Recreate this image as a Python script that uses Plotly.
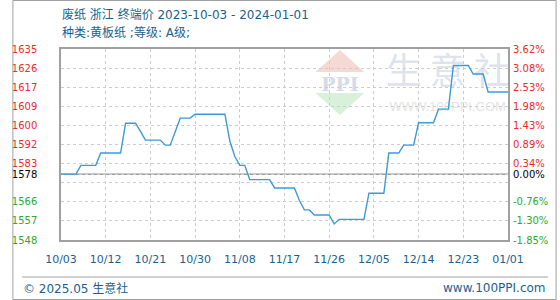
import plotly.graph_objects as go

# ---- data ----
dates = ["2023-10-03", "2023-10-06", "2023-10-07", "2023-10-10", "2023-10-11", "2023-10-15",
         "2023-10-16", "2023-10-18", "2023-10-19", "2023-10-20", "2023-10-23", "2023-10-24",
         "2023-10-25", "2023-10-26", "2023-10-27", "2023-10-29", "2023-10-30", "2023-11-05",
         "2023-11-06", "2023-11-07", "2023-11-08", "2023-11-09", "2023-11-10", "2023-11-14",
         "2023-11-15", "2023-11-19", "2023-11-20", "2023-11-21", "2023-11-22", "2023-11-23",
         "2023-11-26", "2023-11-27", "2023-11-28", "2023-12-03", "2023-12-04", "2023-12-07",
         "2023-12-08", "2023-12-10", "2023-12-11", "2023-12-13", "2023-12-14", "2023-12-17",
         "2023-12-18", "2023-12-20", "2023-12-21", "2023-12-24", "2023-12-25", "2023-12-27",
         "2023-12-28", "2024-01-01"]
prices = [1578, 1578, 1582, 1582, 1587.6, 1587.6,
          1601.2, 1601.2, 1597.5, 1593.5, 1593.5, 1591.2,
          1591.2, 1597.0, 1603.5, 1603.5, 1605.3, 1605.3,
          1593.0, 1586.0, 1582.0, 1582.0, 1575.5, 1575.5,
          1571.7, 1571.7, 1566.0, 1561.7, 1561.7, 1559.4,
          1559.4, 1555.3, 1557.4, 1557.4, 1569.3, 1569.3,
          1587.6, 1587.6, 1591.2, 1591.2, 1601.4, 1601.4,
          1607.6, 1607.6, 1627.5, 1627.5, 1623.6, 1623.6,
          1615.4, 1615.4]

base_value = 1578
y_min, y_max = 1548, 1635
y_tick_vals = [1635, 1626.3, 1617.6, 1608.9, 1600.2, 1591.5, 1582.8, 1574.1, 1565.4, 1556.7, 1548]
y_tick_left = ["1635", "1626", "1617", "1609", "1600", "1592", "1583", "", "1566", "1557", "1548"]
y_tick_right = ["3.62%", "3.08%", "2.53%", "1.98%", "1.43%", "0.89%", "0.34%", "", "-0.76%", "-1.30%", "-1.85%"]

x_tick_vals = ["2023-10-03", "2023-10-12", "2023-10-21", "2023-10-30", "2023-11-08", "2023-11-17",
               "2023-11-26", "2023-12-05", "2023-12-14", "2023-12-23", "2024-01-01"]
x_tick_text = ["10/03", "10/12", "10/21", "10/30", "11/08", "11/17", "11/26", "12/05", "12/14", "12/23", "01/01"]

title1 = "废纸 浙江 终端价 2023-10-03 - 2024-01-01"
title2 = "种类:黄板纸 ;等级: A级;"
footer_left = "© 2025.05 生意社"
footer_right = "www.100PPI.com"

# ---- styling ----
RED = "#ee2a2a"
GREEN = "#2eaa2e"
BLUE_TXT = "#1c5f8f"
LINE = "#3b9ad9"
W, H = 560, 300
L, R, T, B = 50, 50, 49, 60
PW, PH = W - L - R, H - T - B


def px(x):
    return (x - L) / PW


def py(y):
    return (H - B - y) / PH


def colored(vals, labels, pos_col, neg_col):
    out = []
    for v, lab in zip(vals, labels):
        c = pos_col if v > base_value else neg_col
        out.append(f'<span style="color:{c}">{lab}</span>' if lab else "")
    return out


left_vals = y_tick_vals + [base_value]
left_text = colored(y_tick_vals, y_tick_left, RED, GREEN) + ['<span style="color:#000">1578</span>']
right_text = colored(y_tick_vals, y_tick_right, RED, GREEN) + ['<span style="color:#000">0.00%</span>']

fig = go.Figure()
fig.add_trace(go.Scatter(x=dates, y=prices, mode="lines",
                         line=dict(color=LINE, width=1.4), hoverinfo="skip", showlegend=False))
fig.add_trace(go.Scatter(x=dates, y=prices, mode="lines", yaxis="y2", opacity=0,
                         line=dict(color=LINE, width=0), hoverinfo="skip", showlegend=False))

axis_font = dict(family="DejaVu Sans, Verdana, sans-serif", size=10)
fig.update_layout(
    width=W, height=H,
    margin=dict(l=L, r=R, t=T, b=B),
    paper_bgcolor="white", plot_bgcolor="white",
    showlegend=False,
    xaxis=dict(
        type="date", range=["2023-10-03", "2024-01-01"],
        tickvals=x_tick_vals, ticktext=x_tick_text,
        tickfont=dict(family="DejaVu Sans, Verdana, sans-serif", size=11, color=BLUE_TXT),
        showgrid=True, gridcolor="#cccccc", griddash="3px,3px", gridwidth=1,
        showline=True, linecolor="#a0a0a0", linewidth=1.5, mirror=True,
        ticks="", ticklabelstandoff=8, zeroline=False,
    ),
    yaxis=dict(
        range=[y_min, y_max], tickvals=left_vals, ticktext=left_text,
        tickfont=axis_font,
        showgrid=True, gridcolor="#cccccc", griddash="3px,3px", gridwidth=1,
        showline=True, linecolor="#a0a0a0", linewidth=1.5, mirror=True,
        ticks="", ticklabelstandoff=20, zeroline=False,
    ),
    yaxis2=dict(
        range=[y_min, y_max], tickvals=left_vals, ticktext=right_text,
        tickfont=axis_font, overlaying="y", side="right",
        showgrid=False, showline=False, ticks="", ticklabelstandoff=4, zeroline=False,
    ),
)

# baseline
fig.add_shape(type="line", xref="paper", yref="y", x0=0, x1=1, y0=base_value, y1=base_value,
              line=dict(color="#999999", width=1.5), layer="below")

# watermark logo
fig.add_shape(type="path", xref="paper", yref="paper",
              path=f"M {px(312)} {py(72)} L {px(362)} {py(72)} L {px(337)} {py(50)} Z",
              fillcolor="#f7d9d4", line=dict(width=0), layer="below")
fig.add_shape(type="path", xref="paper", yref="paper",
              path=f"M {px(312)} {py(93)} L {px(362)} {py(93)} L {px(337)} {py(115)} Z",
              fillcolor="#d9f0da", line=dict(width=0), layer="below")
fig.add_shape(type="rect", xref="paper", yref="paper",
              x0=px(312), x1=px(362), y0=py(91), y1=py(74),
              fillcolor="rgba(0,0,0,0)", line=dict(width=0), layer="below",
              label=dict(text="<b>PPI</b>", font=dict(family="DejaVu Serif, serif", size=19, color="#d5dbe9")))
fig.add_shape(type="rect", xref="paper", yref="paper",
              x0=px(380), x1=px(516), y0=py(92), y1=py(55),
              fillcolor="rgba(0,0,0,0)", line=dict(width=0), layer="below",
              label=dict(text="生 意 社", font=dict(family="Noto Sans CJK SC", size=36, color="#dfe3ed")))
fig.add_shape(type="rect", xref="paper", yref="paper",
              x0=px(380), x1=px(516), y0=py(112), y1=py(98),
              fillcolor="rgba(0,0,0,0)", line=dict(width=0), layer="below",
              label=dict(text="WWW.100PPI.COM", font=dict(family="Liberation Sans, Arial", size=13, color="#e4e4e4")))

# outer border and footer separator
fig.add_shape(type="rect", xref="paper", yref="paper",
              x0=px(0.5), x1=px(559.5), y0=py(299.5), y1=py(0.5),
              line=dict(color="#a0a0a0", width=1), fillcolor="rgba(0,0,0,0)")
fig.add_shape(type="line", xref="paper", yref="paper",
              x0=px(10), x1=px(551), y0=py(277), y1=py(277),
              line=dict(color="#a0a0a0", width=1))

title_font = dict(family="DejaVu Sans, Noto Sans CJK SC, sans-serif", size=12, color=BLUE_TXT)
fig.add_annotation(xref="paper", yref="paper", x=px(49), y=py(15), text=title1, showarrow=False,
                   xanchor="left", yanchor="middle", font=title_font)
fig.add_annotation(xref="paper", yref="paper", x=px(49), y=py(33), text=title2, showarrow=False,
                   xanchor="left", yanchor="middle", font=title_font)
foot_font = dict(family="DejaVu Sans, Noto Sans CJK SC, sans-serif", size=12, color=BLUE_TXT)
fig.add_annotation(xref="paper", yref="paper", x=px(9), y=py(288), text=footer_left, showarrow=False,
                   xanchor="left", yanchor="middle", font=foot_font)
fig.add_annotation(xref="paper", yref="paper", x=px(551), y=py(288), text=footer_right, showarrow=False,
                   xanchor="right", yanchor="middle", font=foot_font)

fig.write_html("out.html")
